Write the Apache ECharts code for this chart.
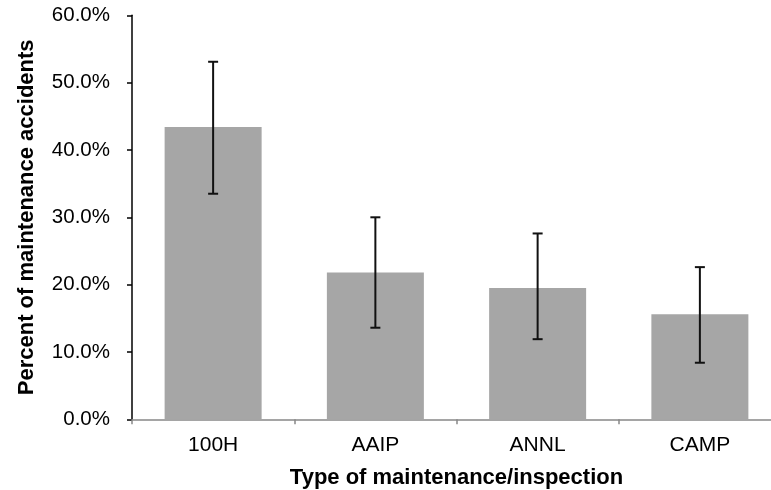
<!DOCTYPE html>
<html>
<head>
<meta charset="utf-8">
<script src="https://cdn.jsdelivr.net/npm/echarts@6/dist/echarts.min.js"></script>
<style>
  html, body { margin: 0; padding: 0; background: #fff; }
  #chart { width: 771px; height: 490px; }
</style>
</head>
<body>
<div id="chart"></div>
<script>
// Maintenance/inspection types and share of maintenance accidents (%)
var categories = ['100H', 'AAIP', 'ANNL', 'CAMP'];
var percentValues = [43.4, 21.8, 19.5, 15.6];
var errorLow = [33.5, 13.6, 11.9, 8.4];
var errorHigh = [53.1, 30.0, 27.6, 22.6];
var yTicks = { min: 0, max: 60, step: 10 };

var FONT = '"Liberation Sans", Arial, sans-serif';

var errorData = categories.map(function (c, i) {
  return [i, errorLow[i], errorHigh[i]];
});

var chart = echarts.init(document.getElementById('chart'), null, { renderer: 'canvas' });

chart.setOption({
  animation: false,
  backgroundColor: '#ffffff',
  // fixed plot rectangle; it runs a little past the right edge of the page
  grid: {
    left: 132, width: 649, top: 15.3, bottom: 70.7,
    containLabel: false, outerBoundsMode: 'none'
  },
  xAxis: {
    type: 'category',
    data: categories,
    name: 'Type of maintenance/inspection',
    nameLocation: 'middle',
    nameGap: 48,
    nameTextStyle: { fontFamily: FONT, fontSize: 22, fontWeight: 'bold', color: '#000' },
    axisLine: { lineStyle: { color: '#888888', width: 1.5 } },
    axisTick: { show: true, length: 5, lineStyle: { color: '#888888', width: 1.5 } },
    axisLabel: { fontFamily: FONT, fontSize: 21, color: '#000', margin: 15 },
    splitLine: { show: false }
  },
  yAxis: {
    type: 'value',
    min: yTicks.min,
    max: yTicks.max,
    interval: yTicks.step,
    name: 'Percent of maintenance accidents',
    nameLocation: 'middle',
    nameGap: 94,
    nameTextStyle: { fontFamily: FONT, fontSize: 22, fontWeight: 'bold', color: '#000' },
    axisLine: { show: true, lineStyle: { color: '#000', width: 1.5 } },
    axisTick: { show: true, length: 5, lineStyle: { color: '#000', width: 1.5 } },
    axisLabel: {
      fontFamily: FONT, fontSize: 20.5, color: '#000', margin: 22,
      formatter: function (v) { return v.toFixed(1) + '%'; }
    },
    splitLine: { show: false }
  },
  series: [
    {
      type: 'bar',
      data: percentValues,
      barWidth: 97,
      itemStyle: { color: '#a6a6a6' },
      z: 2
    },
    {
      type: 'custom',
      data: errorData,
      z: 5,
      renderItem: function (params, api) {
        var x = api.value(0);
        var lo = api.coord([x, api.value(1)]);
        var hi = api.coord([x, api.value(2)]);
        var half = 5;
        var style = { stroke: '#111', lineWidth: 2 };
        return {
          type: 'group',
          children: [
            { type: 'line', shape: { x1: hi[0], y1: hi[1], x2: lo[0], y2: lo[1] }, style: style },
            { type: 'line', shape: { x1: hi[0] - half, y1: hi[1], x2: hi[0] + half, y2: hi[1] }, style: style },
            { type: 'line', shape: { x1: lo[0] - half, y1: lo[1], x2: lo[0] + half, y2: lo[1] }, style: style }
          ]
        };
      }
    }
  ]
});
</script>
</body>
</html>
